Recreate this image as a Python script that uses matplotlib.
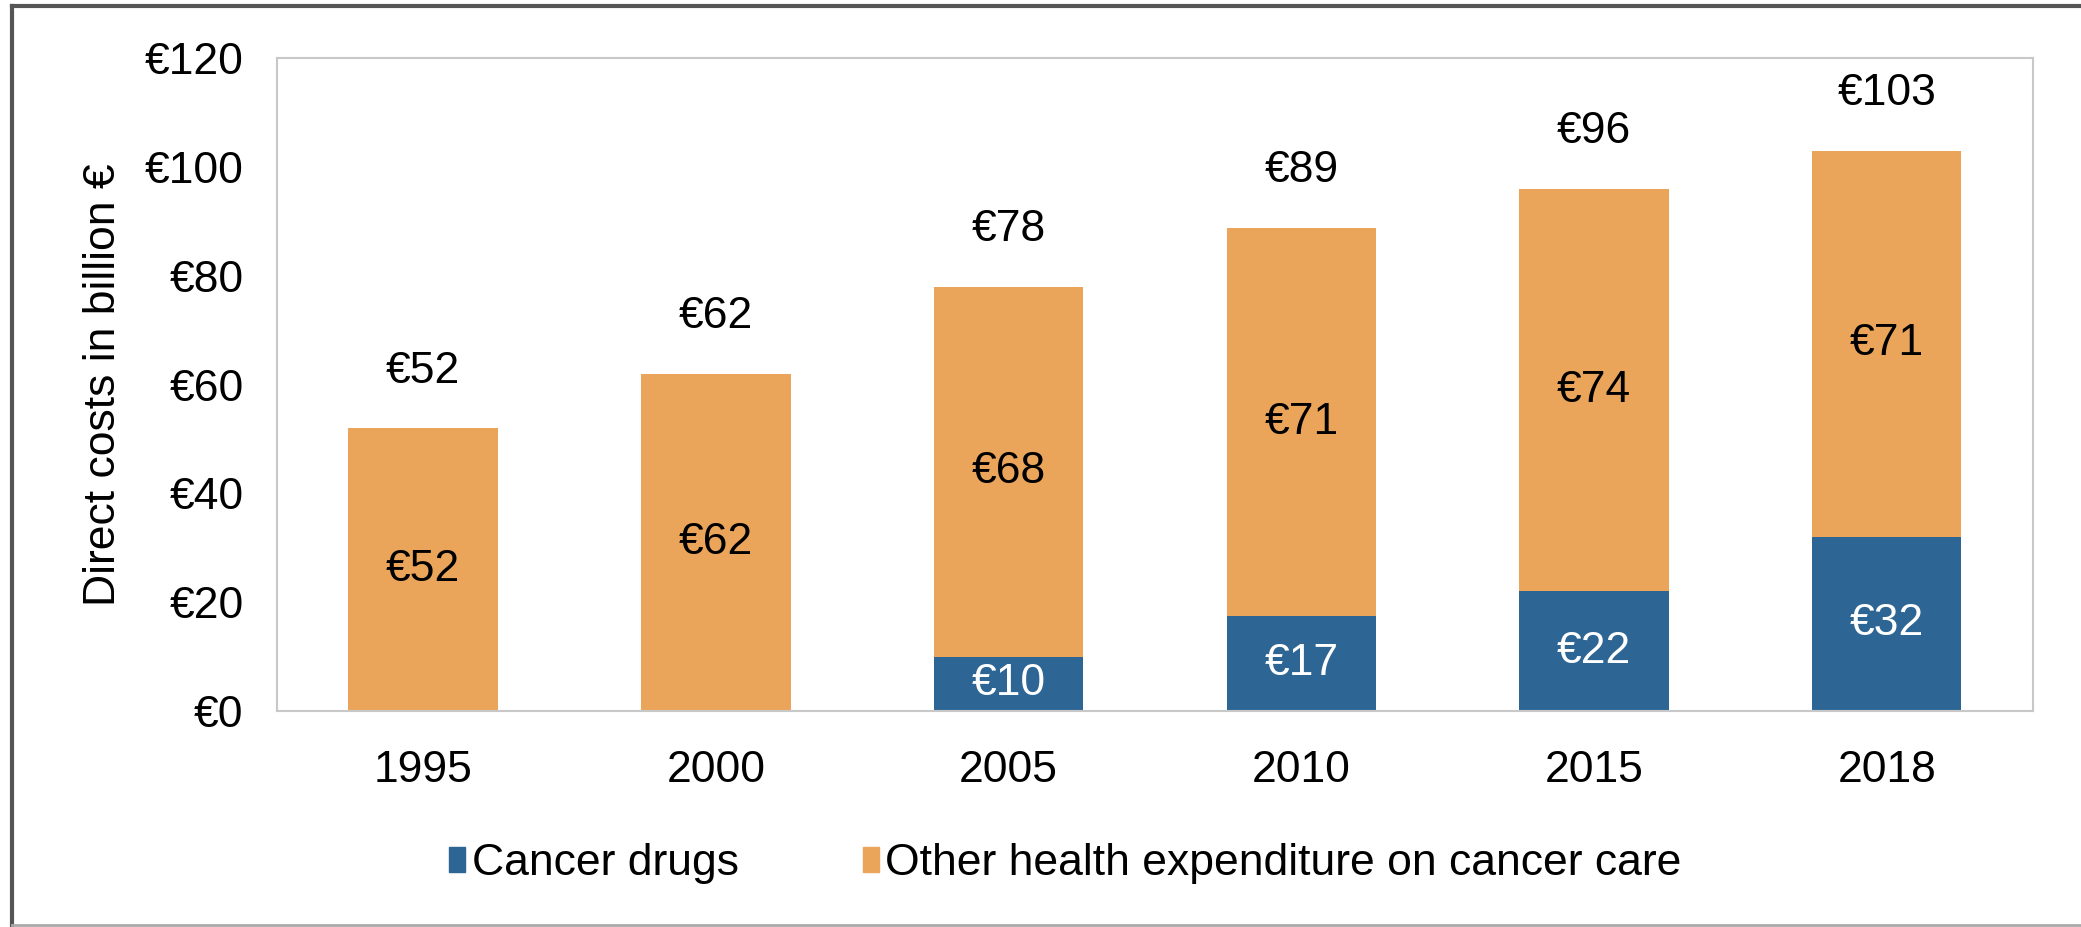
import matplotlib
matplotlib.use("Agg")
import matplotlib.pyplot as plt
from matplotlib.lines import Line2D
from matplotlib.patches import Patch
import numpy as np

plt.rcParams['font.family'] = ['Liberation Sans', 'DejaVu Sans']

years = ['1995', '2000', '2005', '2010', '2015', '2018']
cancer_drugs = [0, 0, 10, 17.4, 22, 32]
other_care = [52, 62, 68, 71.4, 74, 71]

blue = '#2d6694'
orange = '#eba55a'

fig = plt.figure(figsize=(20.81, 9.27), dpi=100)
ax = fig.add_axes([0.133, 0.233, 0.844, 0.704])

x = np.arange(len(years))
w = 0.51
ax.bar(x, cancer_drugs, w, color=blue, label='Cancer drugs')
ax.bar(x, other_care, w, bottom=cancer_drugs, color=orange,
       label='Other health expenditure on cancer care')

fs = 32
for i in range(len(years)):
    total = cancer_drugs[i] + other_care[i]
    if cancer_drugs[i] > 0:
        ax.text(x[i], cancer_drugs[i] / 2, f'€{cancer_drugs[i]:.0f}', ha='center', va='center',
                color='white', fontsize=fs)
    ax.text(x[i], cancer_drugs[i] + other_care[i] / 2, f'€{other_care[i]:.0f}', ha='center',
            va='center', color='black', fontsize=fs)
    ax.text(x[i], total + 10.5, f'€{total:.0f}', ha='center', va='center',
            color='black', fontsize=fs)

ax.set_xlim(-0.5, len(years) - 0.5)
ax.set_ylim(0, 120)
ax.set_yticks(range(0, 121, 20))
ax.set_yticklabels([f'€{v}' for v in range(0, 121, 20)])
ax.set_xticks(x)
ax.set_xticklabels(years)
ax.tick_params(length=0, labelsize=fs)
ax.tick_params(axis='y', pad=24)
ax.tick_params(axis='x', pad=28)
ax.set_ylabel('Direct costs in billion €', fontsize=fs)
ax.yaxis.set_label_coords(-0.087, 0.5)
for s in ax.spines.values():
    s.set_color('#c8c8c8')
    s.set_linewidth(1.5)

handles = [Patch(color=blue), Patch(color=orange)]
fig.legend(handles, ['Cancer drugs', 'Other health expenditure on cancer care'],
           loc='center', bbox_to_anchor=(0.512, 0.068), ncol=2, frameon=False,
           fontsize=fs, handlelength=0.35, handleheight=0.5, handletextpad=0.15,
           columnspacing=2.8)

# outer border (left, top, bottom)
fig.add_artist(Line2D([0.006, 0.006], [0.002, 0.994], transform=fig.transFigure,
                      color='#555555', lw=3))
fig.add_artist(Line2D([0.006, 1.0], [0.994, 0.994], transform=fig.transFigure,
                      color='#555555', lw=3))
fig.add_artist(Line2D([0.006, 1.0], [0.002, 0.002], transform=fig.transFigure,
                      color='#aaaaaa', lw=2))

fig.savefig('out.png', dpi=100)
